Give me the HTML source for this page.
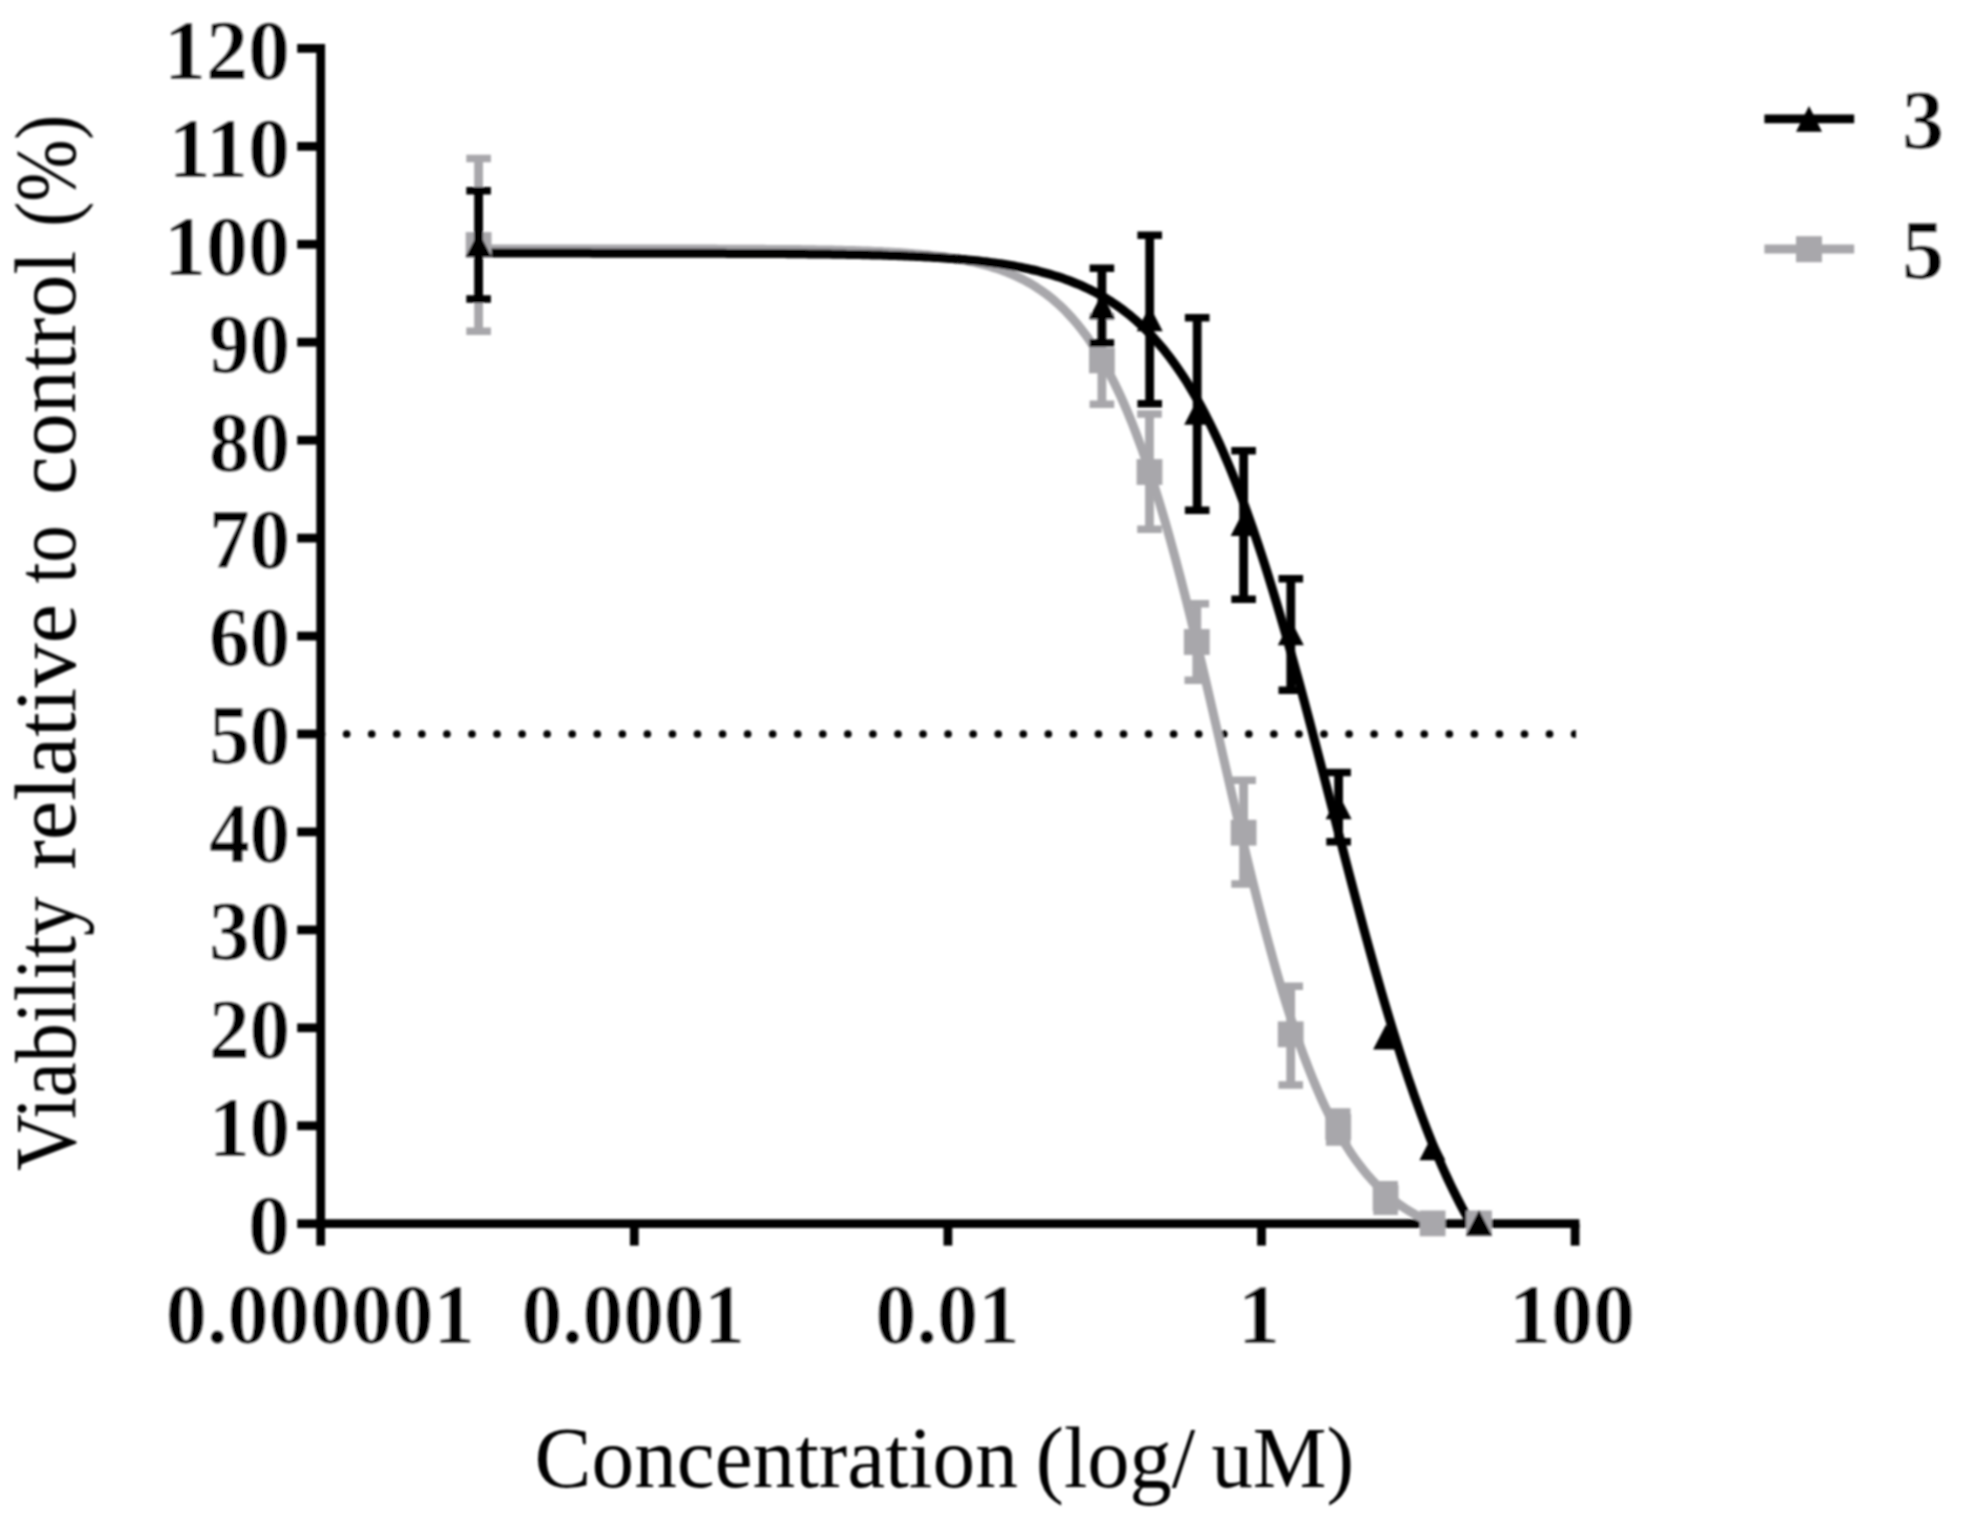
<!DOCTYPE html>
<html lang="en"><head><meta charset="utf-8"><title>Viability relative to control</title>
<style>
html,body{margin:0;padding:0;background:#fff;}
body{width:1962px;height:1521px;overflow:hidden;}
svg{display:block;}
text{font-family:"Liberation Serif","DejaVu Serif",serif;fill:#000;}
.b{font-weight:bold;}
</style></head><body>
<svg width="1962" height="1521" viewBox="0 0 1962 1521">
<defs><filter id="soft" x="0" y="0" width="1962" height="1521" filterUnits="userSpaceOnUse"><feGaussianBlur stdDeviation="0.8"/></filter></defs>
<rect width="1962" height="1521" fill="#fff"/>
<g filter="url(#soft)">

<g stroke="#000" stroke-width="8.8" fill="none" stroke-linecap="butt">
<path d="M320.7,44.0 V1228.1"/>
<path d="M316.3,1223.7 H1579.4"/>
<path d="M297.2,1223.7 H320.7"/>
<path d="M297.2,1125.8 H320.7"/>
<path d="M297.2,1027.8 H320.7"/>
<path d="M297.2,929.9 H320.7"/>
<path d="M297.2,831.9 H320.7"/>
<path d="M297.2,734.0 H320.7"/>
<path d="M297.2,636.1 H320.7"/>
<path d="M297.2,538.1 H320.7"/>
<path d="M297.2,440.2 H320.7"/>
<path d="M297.2,342.2 H320.7"/>
<path d="M297.2,244.3 H320.7"/>
<path d="M297.2,146.4 H320.7"/>
<path d="M297.2,48.4 H320.7"/>
<path d="M320.7,1223.7 V1245.6"/>
<path d="M634.3,1223.7 V1245.6"/>
<path d="M947.9,1223.7 V1245.6"/>
<path d="M1261.5,1223.7 V1245.6"/>
<path d="M1575.1,1223.7 V1245.6"/>
</g>
<clipPath id="dc"><rect x="300" y="700" width="1276" height="70"/></clipPath>
<path clip-path="url(#dc)" d="M321.6,734 H1600" stroke="#000" stroke-width="7.7" stroke-linecap="round" stroke-dasharray="0 25.06" fill="none"/>
<path d="M478.6,249.0 L481.6,249.0 L484.6,249.0 L487.6,249.0 L490.6,249.0 L493.6,249.0 L496.6,249.0 L499.6,249.0 L502.6,249.0 L505.6,249.0 L508.6,249.0 L511.6,249.0 L514.6,249.0 L517.6,249.0 L520.6,249.0 L523.6,249.0 L526.6,249.0 L529.6,249.0 L532.6,249.0 L535.6,249.0 L538.6,249.0 L541.6,249.0 L544.6,249.0 L547.6,249.0 L550.6,249.0 L553.6,249.0 L556.6,249.0 L559.6,249.0 L562.6,249.0 L565.6,249.0 L568.6,249.0 L571.6,249.0 L574.6,249.0 L577.6,249.0 L580.6,249.0 L583.6,249.0 L586.6,249.0 L589.6,249.0 L592.6,249.0 L595.6,249.0 L598.6,249.0 L601.6,249.0 L604.6,249.0 L607.6,249.0 L610.6,249.0 L613.6,249.0 L616.6,249.0 L619.6,249.0 L622.6,249.0 L625.6,249.0 L628.6,249.0 L631.6,249.0 L634.6,249.0 L637.6,249.0 L640.6,249.0 L643.6,249.0 L646.6,249.0 L649.6,249.0 L652.6,249.1 L655.6,249.1 L658.6,249.1 L661.6,249.1 L664.6,249.1 L667.6,249.1 L670.6,249.1 L673.6,249.1 L676.6,249.1 L679.6,249.1 L682.6,249.1 L685.6,249.1 L688.6,249.1 L691.6,249.1 L694.6,249.1 L697.6,249.1 L700.6,249.1 L703.6,249.1 L706.6,249.1 L709.6,249.1 L712.6,249.1 L715.6,249.1 L718.6,249.2 L721.6,249.2 L724.6,249.2 L727.6,249.2 L730.6,249.2 L733.6,249.2 L736.6,249.2 L739.6,249.2 L742.6,249.2 L745.6,249.3 L748.6,249.3 L751.6,249.3 L754.6,249.3 L757.6,249.3 L760.6,249.3 L763.6,249.3 L766.6,249.4 L769.6,249.4 L772.6,249.4 L775.6,249.4 L778.6,249.4 L781.6,249.5 L784.6,249.5 L787.6,249.5 L790.6,249.6 L793.6,249.6 L796.6,249.6 L799.6,249.6 L802.6,249.7 L805.6,249.7 L808.6,249.8 L811.6,249.8 L814.6,249.8 L817.6,249.9 L820.6,249.9 L823.6,250.0 L826.6,250.0 L829.6,250.1 L832.6,250.1 L835.6,250.2 L838.6,250.3 L841.6,250.3 L844.6,250.4 L847.6,250.5 L850.6,250.6 L853.6,250.6 L856.6,250.7 L859.6,250.8 L862.6,250.9 L865.6,251.0 L868.6,251.1 L871.6,251.2 L874.6,251.4 L877.6,251.5 L880.6,251.6 L883.6,251.8 L886.6,251.9 L889.6,252.1 L892.6,252.2 L895.6,252.4 L898.6,252.6 L901.6,252.8 L904.6,253.0 L907.6,253.2 L910.6,253.4 L913.6,253.7 L916.6,253.9 L919.6,254.2 L922.6,254.5 L925.6,254.7 L928.6,255.0 L931.6,255.4 L934.6,255.7 L937.6,256.1 L940.6,256.4 L943.6,256.8 L946.6,257.3 L949.6,257.7 L952.6,258.2 L955.6,258.6 L958.6,259.2 L961.6,259.7 L964.6,260.3 L967.6,260.9 L970.6,261.5 L973.6,262.2 L976.6,262.9 L979.6,263.6 L982.6,264.4 L985.6,265.2 L988.6,266.0 L991.6,266.9 L994.6,267.9 L997.6,268.8 L1000.6,269.9 L1003.6,271.0 L1006.6,272.1 L1009.6,273.4 L1012.6,274.6 L1015.6,276.0 L1018.6,277.4 L1021.6,278.8 L1024.6,280.4 L1027.6,282.0 L1030.6,283.7 L1033.6,285.5 L1036.6,287.4 L1039.6,289.4 L1042.6,291.5 L1045.6,293.6 L1048.6,295.9 L1051.6,298.3 L1054.6,300.8 L1057.6,303.5 L1060.6,306.2 L1063.6,309.1 L1066.6,312.1 L1069.6,315.3 L1072.6,318.6 L1075.6,322.1 L1078.6,325.7 L1081.6,329.5 L1084.6,333.4 L1087.6,337.5 L1090.6,341.9 L1093.6,346.4 L1096.6,351.0 L1099.6,355.9 L1102.6,361.0 L1105.6,366.3 L1108.6,371.9 L1111.6,377.6 L1114.6,383.6 L1117.6,389.8 L1120.6,396.2 L1123.6,402.9 L1126.6,409.8 L1129.6,417.0 L1132.6,424.4 L1135.6,432.1 L1138.6,440.1 L1141.6,448.3 L1144.6,456.8 L1147.6,465.5 L1150.6,474.5 L1153.6,483.7 L1156.6,493.3 L1159.6,503.0 L1162.6,513.1 L1165.6,523.3 L1168.6,533.8 L1171.6,544.6 L1174.6,555.6 L1177.6,566.8 L1180.6,578.2 L1183.6,589.9 L1186.6,601.7 L1189.6,613.7 L1192.6,625.9 L1195.6,638.3 L1198.6,650.7 L1201.6,663.4 L1204.6,676.1 L1207.6,688.9 L1210.6,701.8 L1213.6,714.8 L1216.6,727.8 L1219.6,740.8 L1222.6,753.9 L1225.6,766.9 L1228.6,779.9 L1231.6,792.9 L1234.6,805.8 L1237.6,818.6 L1240.6,831.4 L1243.6,844.0 L1246.6,856.5 L1249.6,868.9 L1252.6,881.1 L1255.6,893.1 L1258.6,905.0 L1261.6,916.6 L1264.6,928.1 L1267.6,939.3 L1270.6,950.3 L1273.6,961.1 L1276.6,971.7 L1279.6,982.0 L1282.6,992.1 L1285.6,1001.9 L1288.6,1011.4 L1291.6,1020.7 L1294.6,1029.7 L1297.6,1038.5 L1300.6,1047.0 L1303.6,1055.2 L1306.6,1063.2 L1309.6,1070.9 L1312.6,1078.4 L1315.6,1085.6 L1318.6,1092.6 L1321.6,1099.3 L1324.6,1105.8 L1327.6,1112.0 L1330.6,1118.0 L1333.6,1123.8 L1336.6,1129.3 L1339.6,1134.7 L1342.6,1139.8 L1345.6,1144.7 L1348.6,1149.4 L1351.6,1154.0 L1354.6,1158.3 L1357.6,1162.4 L1360.6,1166.4 L1363.6,1170.2 L1366.6,1173.9 L1369.6,1177.3 L1372.6,1180.7 L1375.6,1183.9 L1378.6,1186.9 L1381.6,1189.8 L1384.6,1192.6 L1387.6,1195.2 L1390.6,1197.7 L1393.6,1200.2 L1396.6,1202.5 L1399.6,1204.6 L1402.6,1206.7 L1405.6,1208.7 L1408.6,1210.6 L1411.6,1212.4 L1414.6,1214.2 L1417.6,1215.8 L1420.6,1217.4 L1423.6,1218.8 L1426.6,1220.3 L1429.6,1221.6 L1432.6,1222.9" stroke="#a8a7ab" fill="none" stroke-width="9.0" stroke-linejoin="round"/>
<path d="M478.6,253.1 L481.6,253.1 L484.6,253.1 L487.6,253.1 L490.6,253.1 L493.6,253.1 L496.6,253.1 L499.6,253.1 L502.6,253.1 L505.6,253.1 L508.6,253.1 L511.6,253.1 L514.6,253.1 L517.6,253.1 L520.6,253.1 L523.6,253.1 L526.6,253.1 L529.6,253.1 L532.6,253.1 L535.6,253.1 L538.6,253.1 L541.6,253.1 L544.6,253.1 L547.6,253.1 L550.6,253.1 L553.6,253.1 L556.6,253.1 L559.6,253.1 L562.6,253.1 L565.6,253.1 L568.6,253.1 L571.6,253.1 L574.6,253.1 L577.6,253.1 L580.6,253.1 L583.6,253.1 L586.6,253.1 L589.6,253.1 L592.6,253.2 L595.6,253.2 L598.6,253.2 L601.6,253.2 L604.6,253.2 L607.6,253.2 L610.6,253.2 L613.6,253.2 L616.6,253.2 L619.6,253.2 L622.6,253.2 L625.6,253.2 L628.6,253.2 L631.6,253.2 L634.6,253.2 L637.6,253.2 L640.6,253.2 L643.6,253.2 L646.6,253.2 L649.6,253.2 L652.6,253.2 L655.6,253.2 L658.6,253.2 L661.6,253.2 L664.6,253.2 L667.6,253.2 L670.6,253.2 L673.6,253.2 L676.6,253.2 L679.6,253.2 L682.6,253.2 L685.6,253.2 L688.6,253.3 L691.6,253.3 L694.6,253.3 L697.6,253.3 L700.6,253.3 L703.6,253.3 L706.6,253.3 L709.6,253.3 L712.6,253.3 L715.6,253.3 L718.6,253.3 L721.6,253.3 L724.6,253.3 L727.6,253.4 L730.6,253.4 L733.6,253.4 L736.6,253.4 L739.6,253.4 L742.6,253.4 L745.6,253.4 L748.6,253.4 L751.6,253.4 L754.6,253.5 L757.6,253.5 L760.6,253.5 L763.6,253.5 L766.6,253.5 L769.6,253.5 L772.6,253.6 L775.6,253.6 L778.6,253.6 L781.6,253.6 L784.6,253.6 L787.6,253.7 L790.6,253.7 L793.6,253.7 L796.6,253.7 L799.6,253.8 L802.6,253.8 L805.6,253.8 L808.6,253.9 L811.6,253.9 L814.6,253.9 L817.6,254.0 L820.6,254.0 L823.6,254.0 L826.6,254.1 L829.6,254.1 L832.6,254.2 L835.6,254.2 L838.6,254.2 L841.6,254.3 L844.6,254.3 L847.6,254.4 L850.6,254.4 L853.6,254.5 L856.6,254.6 L859.6,254.6 L862.6,254.7 L865.6,254.8 L868.6,254.8 L871.6,254.9 L874.6,255.0 L877.6,255.1 L880.6,255.1 L883.6,255.2 L886.6,255.3 L889.6,255.4 L892.6,255.5 L895.6,255.6 L898.6,255.7 L901.6,255.8 L904.6,255.9 L907.6,256.1 L910.6,256.2 L913.6,256.3 L916.6,256.5 L919.6,256.6 L922.6,256.7 L925.6,256.9 L928.6,257.1 L931.6,257.2 L934.6,257.4 L937.6,257.6 L940.6,257.8 L943.6,258.0 L946.6,258.2 L949.6,258.4 L952.6,258.6 L955.6,258.9 L958.6,259.1 L961.6,259.4 L964.6,259.6 L967.6,259.9 L970.6,260.2 L973.6,260.5 L976.6,260.8 L979.6,261.1 L982.6,261.5 L985.6,261.8 L988.6,262.2 L991.6,262.6 L994.6,263.0 L997.6,263.4 L1000.6,263.8 L1003.6,264.3 L1006.6,264.8 L1009.6,265.3 L1012.6,265.8 L1015.6,266.3 L1018.6,266.9 L1021.6,267.5 L1024.6,268.1 L1027.6,268.7 L1030.6,269.3 L1033.6,270.0 L1036.6,270.7 L1039.6,271.5 L1042.6,272.3 L1045.6,273.1 L1048.6,273.9 L1051.6,274.8 L1054.6,275.7 L1057.6,276.6 L1060.6,277.6 L1063.6,278.6 L1066.6,279.7 L1069.6,280.8 L1072.6,282.0 L1075.6,283.2 L1078.6,284.4 L1081.6,285.7 L1084.6,287.1 L1087.6,288.5 L1090.6,289.9 L1093.6,291.4 L1096.6,293.0 L1099.6,294.7 L1102.6,296.4 L1105.6,298.2 L1108.6,300.0 L1111.6,301.9 L1114.6,303.9 L1117.6,306.0 L1120.6,308.1 L1123.6,310.4 L1126.6,312.7 L1129.6,315.1 L1132.6,317.6 L1135.6,320.2 L1138.6,322.9 L1141.6,325.6 L1144.6,328.5 L1147.6,331.5 L1150.6,334.6 L1153.6,337.9 L1156.6,341.2 L1159.6,344.7 L1162.6,348.2 L1165.6,351.9 L1168.6,355.8 L1171.6,359.8 L1174.6,363.9 L1177.6,368.1 L1180.6,372.5 L1183.6,377.0 L1186.6,381.7 L1189.6,386.6 L1192.6,391.6 L1195.6,396.7 L1198.6,402.0 L1201.6,407.5 L1204.6,413.2 L1207.6,419.0 L1210.6,425.0 L1213.6,431.2 L1216.6,437.5 L1219.6,444.0 L1222.6,450.8 L1225.6,457.7 L1228.6,464.7 L1231.6,472.0 L1234.6,479.5 L1237.6,487.1 L1240.6,494.9 L1243.6,502.9 L1246.6,511.1 L1249.6,519.5 L1252.6,528.1 L1255.6,536.9 L1258.6,545.8 L1261.6,554.9 L1264.6,564.2 L1267.6,573.7 L1270.6,583.3 L1273.6,593.1 L1276.6,603.1 L1279.6,613.2 L1282.6,623.4 L1285.6,633.8 L1288.6,644.4 L1291.6,655.1 L1294.6,665.9 L1297.6,676.8 L1300.6,687.8 L1303.6,698.9 L1306.6,710.2 L1309.6,721.5 L1312.6,732.8 L1315.6,744.3 L1318.6,755.8 L1321.6,767.3 L1324.6,778.9 L1327.6,790.5 L1330.6,802.1 L1333.6,813.7 L1336.6,825.4 L1339.6,837.0 L1342.6,848.5 L1345.6,860.1 L1348.6,871.6 L1351.6,883.0 L1354.6,894.4 L1357.6,905.7 L1360.6,916.9 L1363.6,928.1 L1366.6,939.1 L1369.6,950.0 L1372.6,960.8 L1375.6,971.5 L1378.6,982.0 L1381.6,992.4 L1384.6,1002.7 L1387.6,1012.8 L1390.6,1022.8 L1393.6,1032.6 L1396.6,1042.2 L1399.6,1051.7 L1402.6,1061.0 L1405.6,1070.1 L1408.6,1079.1 L1411.6,1087.8 L1414.6,1096.4 L1417.6,1104.8 L1420.6,1113.0 L1423.6,1121.0 L1426.6,1128.9 L1429.6,1136.5 L1432.6,1144.0 L1435.6,1151.3 L1438.6,1158.3 L1441.6,1165.2 L1444.6,1172.0 L1447.6,1178.5 L1450.6,1184.9 L1453.6,1191.0 L1456.6,1197.0 L1459.6,1202.9 L1462.6,1208.5 L1465.6,1214.0 L1468.6,1219.3" stroke="#000" fill="none" stroke-width="9.0" stroke-linejoin="round"/>
<g stroke="#a8a7ab" fill="none" stroke-width="8.8">
<path stroke-width="8.8" d="M478.6,158.6 V331.3"/>
<path stroke-width="7.5" d="M466.3,158.6 H490.9 M466.3,331.3 H490.9"/>
<path stroke-width="8.8" d="M1101.9,316.6 V404.2"/>
<path stroke-width="7.5" d="M1089.6,316.6 H1114.2 M1089.6,404.2 H1114.2"/>
<path stroke-width="8.8" d="M1149.5,414.0 V529.3"/>
<path stroke-width="7.5" d="M1137.2,414.0 H1161.8 M1137.2,529.3 H1161.8"/>
<path stroke-width="8.8" d="M1196.8,603.8 V680.3"/>
<path stroke-width="7.5" d="M1184.5,603.8 H1209.1 M1184.5,680.3 H1209.1"/>
<path stroke-width="8.8" d="M1243.6,780.2 V884.1"/>
<path stroke-width="7.5" d="M1231.3,780.2 H1255.9 M1231.3,884.1 H1255.9"/>
<path stroke-width="8.8" d="M1290.7,986.2 V1084.9"/>
<path stroke-width="7.5" d="M1278.4,986.2 H1303.0 M1278.4,1084.9 H1303.0"/>
<path stroke-width="8.8" d="M1338.2,1112.0 V1142.0"/>
<path stroke-width="7.5" d="M1325.9,1112.0 H1350.5 M1325.9,1142.0 H1350.5"/>
<path stroke-width="8.8" d="M1385.6,1184.7 V1211.3"/>
<path stroke-width="7.5" d="M1373.3,1184.7 H1397.9 M1373.3,1211.3 H1397.9"/>
</g>
<g fill="#a8a7ab" stroke="none">
<rect x="465.7" y="232.1" width="25.8" height="25.8"/>
<rect x="1089.0" y="347.5" width="25.8" height="25.8"/>
<rect x="1136.6" y="459.1" width="25.8" height="25.8"/>
<rect x="1183.9" y="629.1" width="25.8" height="25.8"/>
<rect x="1230.7" y="819.8" width="25.8" height="25.8"/>
<rect x="1277.8" y="1021.4" width="25.8" height="25.8"/>
<rect x="1325.3" y="1114.1" width="25.8" height="25.8"/>
<rect x="1372.7" y="1185.1" width="25.8" height="25.8"/>
<rect x="1419.7" y="1210.5" width="25.8" height="25.8"/>
<rect x="1466.1" y="1210.5" width="25.8" height="25.8"/>
</g>
<g stroke="#000" fill="none" stroke-width="8.8">
<path stroke-width="8.8" d="M478.6,190.7 V298.9"/>
<path stroke-width="7.5" d="M466.3,190.7 H490.9 M466.3,298.9 H490.9"/>
<path stroke-width="8.8" d="M1101.9,268.2 V343.1"/>
<path stroke-width="7.5" d="M1089.6,268.2 H1114.2 M1089.6,343.1 H1114.2"/>
<path stroke-width="8.8" d="M1149.7,235.2 V403.8"/>
<path stroke-width="7.5" d="M1137.4,235.2 H1162.0 M1137.4,403.8 H1162.0"/>
<path stroke-width="8.8" d="M1197.2,317.8 V510.3"/>
<path stroke-width="7.5" d="M1184.9,317.8 H1209.5 M1184.9,510.3 H1209.5"/>
<path stroke-width="8.8" d="M1243.6,450.8 V599.3"/>
<path stroke-width="7.5" d="M1231.3,450.8 H1255.9 M1231.3,599.3 H1255.9"/>
<path stroke-width="8.8" d="M1290.8,578.8 V690.3"/>
<path stroke-width="7.5" d="M1278.5,578.8 H1303.1 M1278.5,690.3 H1303.1"/>
<path stroke-width="8.8" d="M1338.6,772.4 V841.7"/>
<path stroke-width="7.5" d="M1326.3,772.4 H1350.9 M1326.3,841.7 H1350.9"/>
</g>
<g fill="#000" stroke="none">
<path d="M478.6,231.8 L491.6,257.0 H465.6 Z"/>
<path d="M1101.9,293.5 L1114.9,318.7 H1088.9 Z"/>
<path d="M1149.7,306.0 L1162.7,331.2 H1136.7 Z"/>
<path d="M1197.2,399.6 L1210.2,424.8 H1184.2 Z"/>
<path d="M1243.6,510.8 L1256.6,536.0 H1230.6 Z"/>
<path d="M1290.8,620.0 L1303.8,645.2 H1277.8 Z"/>
<path d="M1338.6,794.0 L1351.6,819.2 H1325.6 Z"/>
<path d="M1386.1,1024.4 L1399.1,1049.6 H1373.1 Z"/>
<path d="M1432.4,1135.0 L1445.4,1160.2 H1419.4 Z"/>
<path d="M1479.0,1210.2 L1492.0,1235.4 H1466.0 Z"/>
</g>
<path d="M1764.4,118.8 H1854.2" stroke="#000" stroke-width="8.8"/>
<path d="M1809,106 L1822,131.8 H1796 Z" fill="#000"/>
<path d="M1764.4,249 H1854.2" stroke="#a8a7ab" stroke-width="8.8"/>
<rect x="1796" y="236.2" width="26" height="26" fill="#a8a7ab"/>
<g class="b" font-size="84" stroke="#fff" stroke-width="0.55">
<text x="1923" y="148.8" text-anchor="middle">3</text>
<text x="1923" y="279" text-anchor="middle">5</text>
<text x="289.9" y="1254.0" text-anchor="end">0</text>
<text transform="translate(290.2,1156.1) scale(0.968,1)" text-anchor="end">10</text>
<text transform="translate(290.2,1058.1) scale(0.968,1)" text-anchor="end">20</text>
<text transform="translate(290.2,960.2) scale(0.968,1)" text-anchor="end">30</text>
<text transform="translate(290.2,862.2) scale(0.968,1)" text-anchor="end">40</text>
<text transform="translate(290.2,764.3) scale(0.968,1)" text-anchor="end">50</text>
<text transform="translate(290.2,666.4) scale(0.968,1)" text-anchor="end">60</text>
<text transform="translate(290.2,568.4) scale(0.968,1)" text-anchor="end">70</text>
<text transform="translate(290.2,470.5) scale(0.968,1)" text-anchor="end">80</text>
<text transform="translate(290.2,372.5) scale(0.968,1)" text-anchor="end">90</text>
<text x="289.9" y="274.6" text-anchor="end">100</text>
<text x="289.9" y="176.7" text-anchor="end">110</text>
<text x="289.9" y="78.7" text-anchor="end">120</text>
<text transform="translate(320.2,1343) scale(0.98,1)" text-anchor="middle">0.000001</text>
<text transform="translate(633.3,1343) scale(0.967,1)" text-anchor="middle">0.0001</text>
<text transform="translate(947.4,1343) scale(0.98,1)" text-anchor="middle">0.01</text>
<text transform="translate(1259.0,1343) scale(1.0,1)" text-anchor="middle">1</text>
<text transform="translate(1572.1,1343) scale(1.0,1)" text-anchor="middle">100</text>
</g>
<g font-size="86" transform="translate(0,1486.6)">
<text x="534.6" y="0" textLength="483.2" lengthAdjust="spacingAndGlyphs">Concentration</text>
<text x="1035.8" y="0" textLength="159.4" lengthAdjust="spacingAndGlyphs">(log/</text>
<text x="1211.4" y="0" textLength="142.8" lengthAdjust="spacingAndGlyphs">uM)</text>
</g>
<g font-size="86" transform="translate(75,1170.9) rotate(-90)">
<text x="0.0" y="0" textLength="274.1" lengthAdjust="spacingAndGlyphs">Viability</text>
<text x="301.3" y="0" textLength="265.4" lengthAdjust="spacingAndGlyphs">relative</text>
<text x="587.5" y="0" textLength="58.0" lengthAdjust="spacingAndGlyphs">to</text>
<text x="676.3" y="0" textLength="243.8" lengthAdjust="spacingAndGlyphs">control</text>
<text x="944.3" y="0" textLength="111.8" lengthAdjust="spacingAndGlyphs">(%)</text>
</g>
</g></svg></body></html>
